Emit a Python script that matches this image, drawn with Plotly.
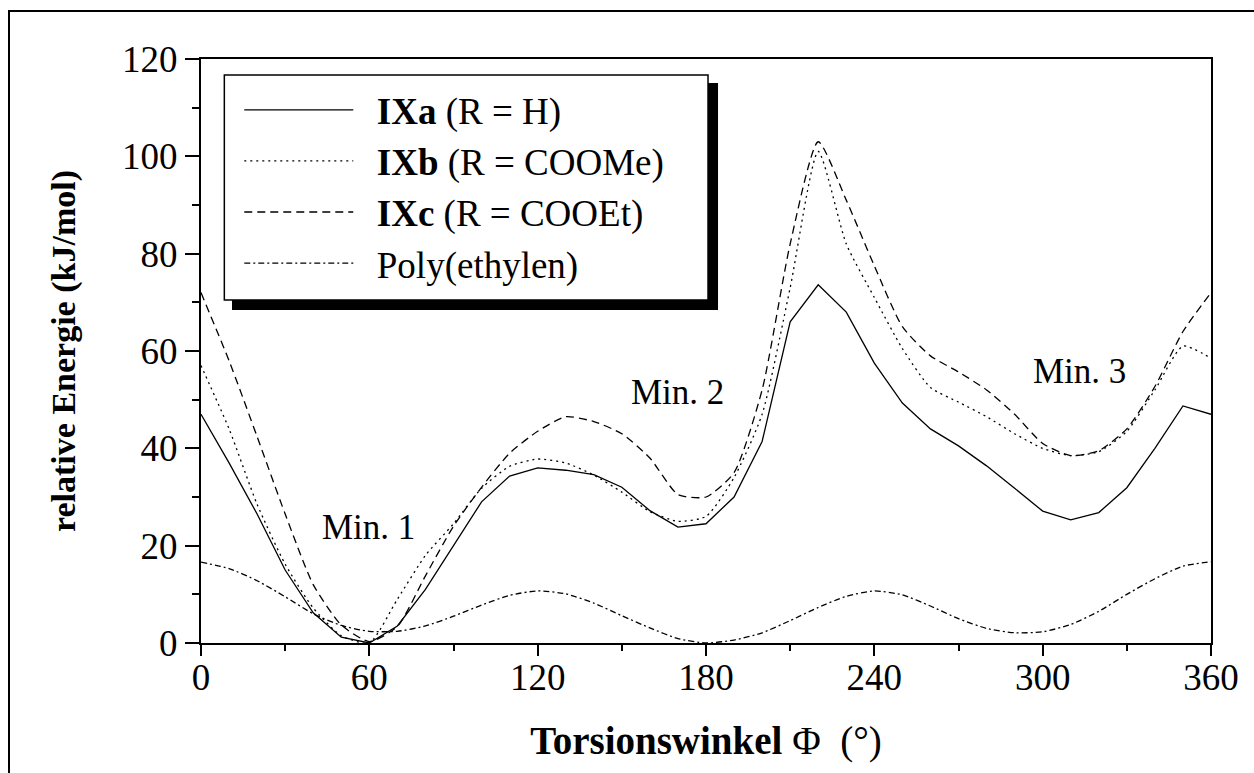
import plotly.graph_objects as go

# ---------------- data ----------------
angles = list(range(0, 361, 10))

ixa = [47, 37, 26.5, 15, 6.2, 1.2, 0, 3.5, 11, 20, 29, 34.3, 36, 35.5, 34.6, 32, 27.2,
       23.8, 24.5, 30, 41.4, 66, 73.6, 68, 57.5, 49.3, 44, 40.5, 36.4, 31.8, 27.1, 25.3,
       26.8, 31.9, 40, 48.7, 47]

ixb = [57, 44, 28.5, 16.2, 7.2, 1.5, 0, 9, 18, 24.5, 31.8, 36.3, 37.8, 37, 34.5, 31, 27,
       25, 26, 34, 47, 73, 101, 82, 71, 60.5, 52.5, 49.5, 46.5, 43, 40, 38.5, 39.3, 43.5,
       52, 61, 58.5]

ixc = [72, 58, 42.4, 26.5, 12, 3.7, 0.3, 3.4, 13.8, 24, 32, 39, 43.5, 46.5, 45.5, 43, 38,
       30.5, 30, 35, 52, 82, 103, 91, 77.5, 65, 59, 55.7, 52, 47, 41, 38.5, 39.5, 44,
       52.7, 64, 72]

poly = [16.6, 15.3, 12.8, 9.5, 6, 3.6, 2.4, 2.4, 3.5, 5.5, 7.8, 9.8, 10.7, 10.1, 8.2, 5.6,
        3.1, 0.9, 0, 0.6, 2.1, 4.6, 7.3, 9.6, 10.7, 9.9, 7.6, 5, 3, 2.1, 2.3, 3.8, 6.5,
        10, 13.2, 15.8, 16.7]

series_names = ["<b>IXa</b> (R = H)", "<b>IXb</b> (R = COOMe)",
                "<b>IXc</b> (R = COOEt)", "Poly(ethylen)"]

x_ticks = [0, 60, 120, 180, 240, 300, 360]
y_ticks = [0, 20, 40, 60, 80, 100, 120]

min_labels = ["Min. 1", "Min. 2", "Min. 3"]
min_x = [59.6, 170, 313]
min_y = [23.8, 51.4, 55.7]

FONT = "Liberation Serif"
PAD = "\u00a0\u00a0"

fig = go.Figure()
styles = [
    dict(dash="solid", shape="linear"),
    dict(dash="2px,4px", shape="spline"),
    dict(dash="8px,5px", shape="spline"),
    dict(dash="6px,3px,2px,3px", shape="spline"),
]
for name, vals, st in zip(series_names, [ixa, ixb, ixc, poly], styles):
    fig.add_trace(go.Scatter(
        x=angles, y=vals, mode="lines", name=PAD + name, legendgroup=name,
        line=dict(color="black", width=1.3, dash=st["dash"], shape=st["shape"],
                  smoothing=0.6),
    ))

for t, xx, yy in zip(min_labels, min_x, min_y):
    fig.add_annotation(x=xx, y=yy, text=t, showarrow=False,
                       font=dict(family=FONT, size=35, color="black"))

shapes = [
    # outer frame (only top and left edges fall inside the page)
    dict(type="rect", xref="paper", yref="paper", x0=-0.1901, x1=1.2, y0=-0.4, y1=1.0822,
         line=dict(color="black", width=2), fillcolor="rgba(0,0,0,0)", layer="above"),
    # legend shadow
    dict(type="rect", xref="paper", yref="paper", x0=0.0307, x1=0.5119, y0=0.5702, y1=0.9589,
         line=dict(width=0), fillcolor="black", layer="above"),
    # legend box
    dict(type="rect", xref="paper", yref="paper", x0=0.0231, x1=0.502, y0=0.5873, y1=0.9726,
         line=dict(color="black", width=1.5), fillcolor="white", layer="above"),
]

fig.update_layout(
    width=1254, height=773, autosize=False,
    paper_bgcolor="white", plot_bgcolor="white",
    margin=dict(l=201, r=43, t=59, b=130, pad=0),
    font=dict(family=FONT, color="black"),
    shapes=shapes,
    showlegend=True,
    legend=dict(
        x=0.0379, y=0.9653, xanchor="left", yanchor="top",
        bgcolor="rgba(0,0,0,0)", borderwidth=0,
        font=dict(family=FONT, size=37, color="black"),
        itemwidth=109, tracegroupgap=0,
    ),
    xaxis=dict(
        range=[0, 360], tickvals=x_ticks, ticktext=[str(v) for v in x_ticks],
        showline=True, linewidth=2, linecolor="black", mirror=True,
        ticks="outside", ticklen=11, tickwidth=2, tickcolor="black",
        minor=dict(dtick=30, tick0=0, ticks="outside", ticklen=6, tickwidth=2, tickcolor="black"),
        showgrid=False, zeroline=False,
        tickfont=dict(family=FONT, size=37, color="black"),
        ticklabelstandoff=-10,
        title=dict(text="<b>Torsionswinkel</b> Φ\u00a0\u00a0(°)",
                   font=dict(family=FONT, size=39, color="black"), standoff=29),
    ),
    yaxis=dict(
        range=[0, 120], tickvals=y_ticks, ticktext=[str(v) for v in y_ticks],
        showline=True, linewidth=2, linecolor="black", mirror=True,
        ticks="outside", ticklen=14, tickwidth=2, tickcolor="black",
        minor=dict(dtick=10, tick0=0, ticks="outside", ticklen=7, tickwidth=2, tickcolor="black"),
        showgrid=False, zeroline=False,
        tickfont=dict(family=FONT, size=37, color="black"),
        title=dict(text="<b>relative Energie (kJ/mol)</b>",
                   font=dict(family=FONT, size=34, color="black"), standoff=36),
    ),
)

fig.write_html("out.html")
